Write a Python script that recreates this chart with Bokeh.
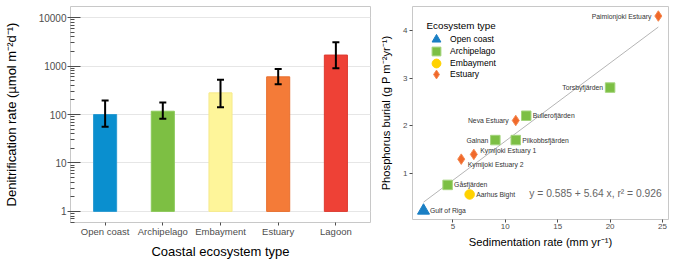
import numpy as np
from bokeh.plotting import figure
from bokeh.models import (ColumnDataSource, Whisker, TeeHead, FactorRange, Legend,
                          LegendItem, Label, Range1d, FixedTicker)
from bokeh.layouts import row
from bokeh.embed import file_html
from bokeh.resources import INLINE
from bokeh.core.properties import value

FONT = "Liberation Sans"

# ---------------- data: left panel ----------------
categories = ["Open coast", "Archipelago", "Embayment", "Estuary", "Lagoon"]
denit_mean = [100, 117, 280, 600, 1690]
denit_low = [56, 82, 141, 420, 898]
denit_high = [194, 177, 525, 866, 3125]
bar_colors = ["#0A8FCF", "#7DBF43", "#FEF59A", "#F47B38", "#EE4136"]
bar_lines = ["#2A9AD2", "#8CC95A", "#F6EA8C", "#E86F2E", "#DD3A30"]
y_tick_values = [1, 10, 100, 1000, 10000]

# ---------------- data: right panel ----------------
sites = ["Gulf of Riga", "Gåsfjärden", "Aarhus Bight", "Kymijoki Estuary 2",
         "Kymijoki Estuary 1", "Galnan", "Pilkobbsfjärden", "Neva Estuary",
         "Bullerofjärden", "Torsbyfjärden", "Paimionjoki Estuary"]
site_type = ["Open coast", "Archipelago", "Embayment", "Estuary", "Estuary",
             "Archipelago", "Archipelago", "Estuary", "Archipelago",
             "Archipelago", "Estuary"]
sed_rate = [2.2, 4.5, 6.6, 5.8, 7.0, 9.05, 11.0, 11.0, 12.0, 20.0, 24.6]
p_burial = [0.22, 0.76, 0.56, 1.30, 1.40, 1.70, 1.70, 2.11, 2.21, 2.80, 4.30]
type_order = ["Open coast", "Archipelago", "Embayment", "Estuary"]
x_tick_values = [5, 10, 15, 20, 25]
p_tick_values = [1, 2, 3, 4]
equation_text = "y = 0.585 + 5.64 x,  r² = 0.926"
legend_title = "Ecosystem type"

# label placement (styling only)
label_side = ["right", "right", "right", "right", "right", "left", "right",
              "left", "right", "left", "left"]
label_dy = [0, 0, 0, 5, -4, 0, 0, 0, 0, 0, 0]

type_style = {
    "Open coast": dict(marker="triangle", size=12, fill_color="#1A7FC4", line_color="#1A7FC4"),
    "Archipelago": dict(marker="square", size=9.5, fill_color="#7CBF44", line_color="#A4D47C"),
    "Embayment": dict(marker="circle", size=9.5, fill_color="#FFD200", line_color="#FFD200"),
    "Estuary": dict(marker="diamond", size=10.5, fill_color="#F0692B", line_color="#F5884F"),
}

TICK_COLOR = "#4d4d4d"
FRAME_COLOR = "#c8c8c8"
L_FRAME_H = 216
R_FRAME_H = 213

# ================= left figure =================
left = figure(frame_width=300, frame_height=L_FRAME_H, output_backend="svg",
              toolbar_location=None,
              x_range=FactorRange(factors=categories, range_padding=0.1,
                                  range_padding_units="absolute"),
              y_axis_type="log", y_range=Range1d(0.59, 17000),
              min_border_left=67, min_border_right=1, min_border_top=6,
              min_border_bottom=0)
left.outline_line_color = FRAME_COLOR

bar_src = ColumnDataSource(dict(cat=categories, mean=denit_mean, low=denit_low,
                                high=denit_high, fill=bar_colors, line=bar_lines))
left.vbar(x="cat", top="mean", bottom=1, width=0.4, fill_color="fill",
          line_color="line", line_width=1, source=bar_src)
whisk = Whisker(base="cat", upper="high", lower="low", source=bar_src,
                line_width=2, line_color="black", level="overlay",
                upper_head=TeeHead(size=7, line_width=2, line_color="black"),
                lower_head=TeeHead(size=7, line_width=2, line_color="black"))
left.add_layout(whisk)

minor = [m * 10.0 ** e for e in range(-1, 5) for m in range(2, 10)]
left.yaxis.ticker = FixedTicker(ticks=y_tick_values, minor_ticks=minor)
left.yaxis.major_label_overrides = {v: str(v) for v in y_tick_values}
left.yaxis.major_tick_in = 10
left.yaxis.major_tick_out = 3
left.yaxis.minor_tick_in = 4
left.yaxis.minor_tick_out = 0
left.yaxis.major_label_standoff = 1
left.yaxis.axis_label = "Denitrification rate (µmol m⁻²d⁻¹)"
left.yaxis.axis_label_standoff = 17
left.xaxis.axis_label = "Coastal ecosystem type"
left.xaxis.axis_label_standoff = 4
left.xaxis.major_tick_in = 0
left.xaxis.major_tick_out = 3
left.xaxis.major_label_standoff = 0
for ax in (left.xaxis, left.yaxis):
    ax.axis_line_color = None
    ax.major_tick_line_color = TICK_COLOR
    ax.minor_tick_line_color = TICK_COLOR
    ax.major_label_text_color = TICK_COLOR
    ax.major_label_text_font = FONT
    ax.axis_label_text_font = FONT
    ax.axis_label_text_font_style = "normal"
    ax.axis_label_text_color = "black"
    ax.axis_label_text_font_size = "13px"
left.yaxis.major_label_text_font_size = "10px"
left.xaxis.major_label_text_font_size = "9.5px"
left.xgrid.grid_line_color = None
left.ygrid.grid_line_color = "#e6e6e6"
left.ygrid.grid_line_width = 1.2

# ================= right figure =================
right = figure(frame_width=256, frame_height=R_FRAME_H, output_backend="svg",
               toolbar_location=None,
               x_range=Range1d(1.15, 25.57), y_range=Range1d(0.035, 4.5),
               min_border_left=41, min_border_right=4, min_border_top=6,
               min_border_bottom=0)
right.outline_line_color = FRAME_COLOR
right.xgrid.grid_line_color = None
right.ygrid.grid_line_color = None

slope, intercept = np.polyfit(sed_rate, p_burial, 1)
fit_x = np.array([min(sed_rate), max(sed_rate)])
right.line(fit_x, intercept + slope * fit_x, line_color="#b5b5b5", line_width=1)

for k, t in enumerate(type_order):
    idx = [i for i, s in enumerate(site_type) if s == t]
    src = ColumnDataSource(dict(x=[sed_rate[i] for i in idx], y=[p_burial[i] for i in idx]))
    r = right.scatter(x="x", y="y", source=src, line_width=1, **type_style[t])
    row_center = 33.3 + 11.6 * k          # px below the frame top
    lg = Legend(items=[LegendItem(label=t, renderers=[r])],
                location=(13, R_FRAME_H - row_center - 12),
                label_text_font=FONT, label_text_font_size="8.6px",
                label_text_color="black", glyph_width=22, glyph_height=24,
                label_height=24, spacing=0, label_standoff=3,
                margin=0, padding=0,
                background_fill_alpha=0, border_line_color=None)
    right.add_layout(lg)

right.add_layout(Label(x=14, y=R_FRAME_H - 19, x_units="screen", y_units="screen",
                       text=legend_title, text_baseline="middle",
                       text_font_size="9.8px", text_color="black", text_font=FONT))

lab_src = ColumnDataSource(dict(
    x=sed_rate, y=p_burial, name=sites,
    xo=[6.5 if s == "right" else -7 for s in label_side],
    yo=label_dy,
    align=["left" if s == "right" else "right" for s in label_side]))
right.text(x="x", y="y", text="name", x_offset="xo", y_offset="yo",
           text_align="align", text_baseline="middle", text_font_size="6.8px",
           text_color="#333333", text_font=value(FONT), source=lab_src)

right.add_layout(Label(x=25.2, y=0.58, text=equation_text, text_align="right",
                       text_baseline="middle", text_font_size="10.3px",
                       text_color="#666666", text_font=FONT))

right.xaxis.ticker = FixedTicker(ticks=x_tick_values)
right.yaxis.ticker = FixedTicker(ticks=p_tick_values)
right.xaxis.axis_label = "Sedimentation rate (mm yr⁻¹)"
right.yaxis.axis_label = "Phosphorus burial (g P m⁻²yr⁻¹)"
for ax in (right.xaxis, right.yaxis):
    ax.axis_line_color = None
    ax.major_tick_in = 0
    ax.major_tick_out = 3
    ax.minor_tick_line_color = None
    ax.major_tick_line_color = TICK_COLOR
    ax.major_label_text_color = TICK_COLOR
    ax.major_label_text_font = FONT
    ax.major_label_text_font_size = "8px"
    ax.axis_label_text_font = FONT
    ax.axis_label_text_font_style = "normal"
    ax.axis_label_text_color = "black"
    ax.axis_label_text_font_size = "11.2px"
right.xaxis.major_label_standoff = 1
right.xaxis.axis_label_standoff = 4
right.yaxis.major_label_standoff = 2
right.yaxis.axis_label_standoff = 8

layout = row(left, right)
open("out.html", "w").write(file_html(layout, INLINE))
